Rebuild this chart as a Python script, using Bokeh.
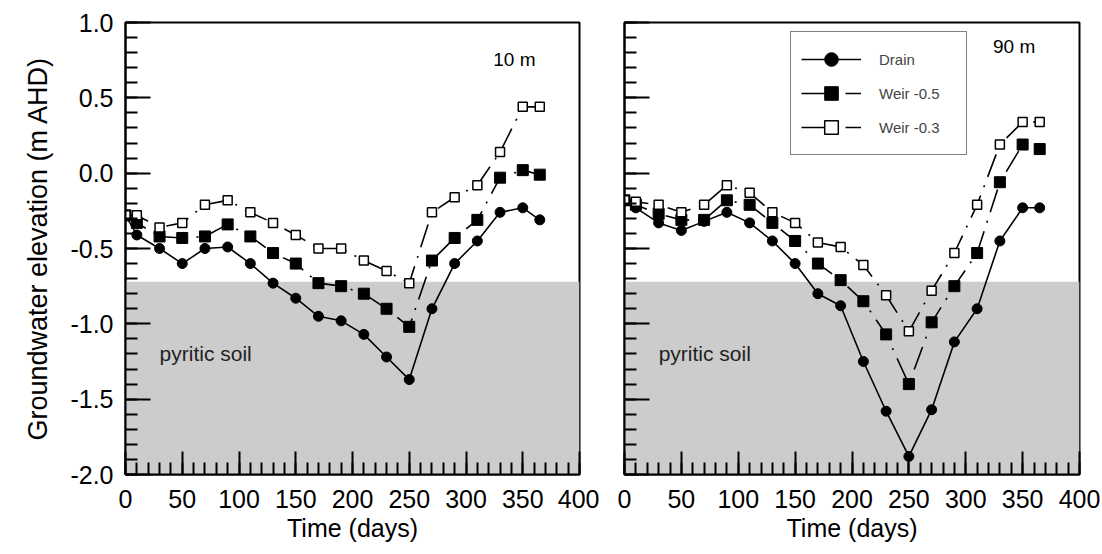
from bokeh.plotting import figure
from bokeh.models import (Range1d, SingleIntervalTicker, BoxAnnotation, Legend,
                          LegendItem, CustomJSTickFormatter, Label)
from bokeh.layouts import row
from bokeh.embed import file_html
from bokeh.resources import INLINE

FONT = "Liberation Sans"

# ---- data ----
days = [0, 10, 30, 50, 70, 90, 110, 130, 150, 170, 190, 210, 230, 250, 270, 290, 310, 330, 350, 365]

# 10 m from drain
drain_10 = [-0.28, -0.41, -0.50, -0.60, -0.50, -0.49, -0.60, -0.73, -0.83, -0.95, -0.98, -1.07,
            -1.22, -1.37, -0.90, -0.60, -0.45, -0.26, -0.23, -0.31]
weir05_10 = [-0.28, -0.33, -0.42, -0.43, -0.42, -0.34, -0.42, -0.53, -0.60, -0.73, -0.75, -0.80,
             -0.90, -1.02, -0.58, -0.43, -0.31, -0.03, 0.02, -0.01]
weir03_10 = [-0.28, -0.28, -0.36, -0.33, -0.21, -0.18, -0.26, -0.33, -0.41, -0.50, -0.50, -0.58,
             -0.65, -0.73, -0.26, -0.16, -0.08, 0.14, 0.44, 0.44]

# 90 m from drain
drain_90 = [-0.18, -0.23, -0.33, -0.38, -0.32, -0.26, -0.33, -0.45, -0.60, -0.80, -0.88, -1.25,
            -1.58, -1.88, -1.57, -1.12, -0.90, -0.45, -0.23, -0.23]
weir05_90 = [-0.18, -0.21, -0.27, -0.31, -0.31, -0.18, -0.21, -0.33, -0.45, -0.60, -0.71, -0.85,
             -1.07, -1.40, -0.99, -0.75, -0.53, -0.06, 0.19, 0.16]
weir03_90 = [-0.18, -0.19, -0.21, -0.26, -0.21, -0.08, -0.13, -0.26, -0.33, -0.46, -0.49, -0.61,
             -0.81, -1.05, -0.78, -0.53, -0.21, 0.19, 0.34, 0.34]

series_names = ["Drain", "Weir -0.5", "Weir -0.3"]
panel_labels = ["10 m", "90 m"]
pyritic_top = -0.72
pyritic_label = "pyritic soil"
x_title = "Time (days)"
y_title = "Groundwater elevation (m AHD)"

# ---- layout ----
H = 554
TOP = 22
BOTTOM = H - TOP - 452
DASH = "24 9 2 9"


def style_axes(p, show_ylabels):
    for ax in (p.xaxis[0], p.yaxis[0]):
        ax.axis_line_width = 2
        ax.axis_line_color = "black"
        ax.major_tick_out = 0
        ax.minor_tick_out = 0
        ax.major_tick_line_width = 2
        ax.minor_tick_line_width = 2
        ax.major_tick_line_color = "black"
        ax.minor_tick_line_color = "black"
        ax.minor_tick_in = 12
        ax.major_label_text_font = FONT
        ax.major_label_text_font_size = "25px"
        ax.major_label_text_color = "black"
        ax.axis_label_text_font = FONT
        ax.axis_label_text_font_size = "25px"
        ax.axis_label_text_font_style = "normal"
        ax.axis_label_text_color = "black"
    p.xaxis[0].major_tick_in = 23
    p.yaxis[0].major_tick_in = 25
    p.xaxis[0].ticker = SingleIntervalTicker(interval=50, num_minor_ticks=5)
    p.yaxis[0].ticker = SingleIntervalTicker(interval=0.5, num_minor_ticks=5)
    p.xaxis[0].major_label_standoff = 15
    p.yaxis[0].major_label_standoff = 12
    p.xaxis[0].axis_label_standoff = 3
    p.yaxis[0].axis_label_standoff = 14
    p.yaxis[0].axis_label_text_font_size = "27px"
    if show_ylabels:
        p.yaxis[0].formatter = CustomJSTickFormatter(code="return tick.toFixed(1)")
    else:
        p.yaxis[0].formatter = CustomJSTickFormatter(code="return ''")


def make_panel(drain, w05, w03, depth_text, depth_y, width, bl, br, show_ylabels, with_legend):
    p = figure(width=width, height=H, x_range=Range1d(0, 400), y_range=Range1d(-2, 1),
               output_backend="svg", toolbar_location=None,
               min_border_left=bl, min_border_right=br, min_border_top=TOP,
               min_border_bottom=BOTTOM,
               x_axis_label=x_title, y_axis_label=y_title if show_ylabels else None)
    p.xgrid.visible = False
    p.ygrid.visible = False
    p.outline_line_color = "black"
    p.outline_line_width = 2
    p.outline_line_alpha = 1
    p.background_fill_color = "white"
    p.border_fill_color = "white"

    p.add_layout(BoxAnnotation(top=pyritic_top, fill_color="#cccccc", fill_alpha=1,
                               line_color=None, level="underlay"))

    l1 = p.line(days, drain, line_color="black", line_width=1.6)
    l2 = p.line(days, w05, line_color="black", line_width=1.6, line_dash=DASH)
    l3 = p.line(days, w03, line_color="black", line_width=1.6, line_dash=DASH)
    s1 = p.scatter(days, drain, marker="circle", size=10, fill_color="black", line_color="black")
    s2 = p.scatter(days, w05, marker="square", size=11, fill_color="black", line_color="black")
    s3 = p.scatter(days, w03, marker="square", size=9, fill_color="white", line_color="black",
                   line_width=1.5)

    p.add_layout(Label(x=30, y=-1.2, text=pyritic_label, text_font=FONT,
                       text_font_size="21px", text_baseline="middle", text_color="#222222"))
    p.add_layout(Label(x=324, y=depth_y, text=depth_text, text_font=FONT,
                       text_font_size="19px", text_baseline="middle", text_color="black"))

    style_axes(p, show_ylabels)

    if with_legend:
        legend = Legend(items=[LegendItem(label=series_names[0], renderers=[l1, s1]),
                               LegendItem(label=series_names[1], renderers=[l2, s2]),
                               LegendItem(label=series_names[2], renderers=[l3, s3])],
                        location=(166, 319), glyph_width=60, glyph_height=34, spacing=0,
                        padding=10, margin=0, label_standoff=18, label_width=77,
                        label_text_font=FONT, label_text_font_size="15px",
                        border_line_color="black", border_line_width=1.5,
                        background_fill_color="white", background_fill_alpha=1)
        p.add_layout(legend, "center")
    return p


p1 = make_panel(drain_10, weir05_10, weir03_10, panel_labels[0], 0.754,
                width=599, bl=125, br=20, show_ylabels=True, with_legend=False)
p2 = make_panel(drain_90, weir05_90, weir03_90, panel_labels[1], 0.84,
                width=501, bl=25, br=21, show_ylabels=False, with_legend=True)

layout = row(p1, p2, spacing=0)
open("out.html", "w").write(file_html(layout, INLINE))
